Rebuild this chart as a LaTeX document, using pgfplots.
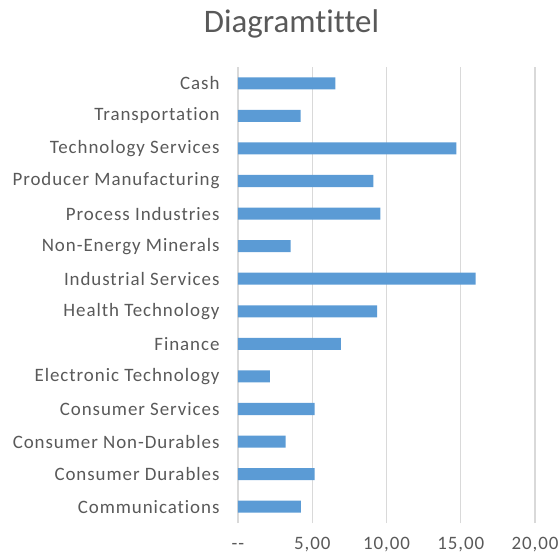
\documentclass[border=0pt]{standalone}
\usepackage{pgfplots}
\pgfplotsset{compat=1.18}
\usepackage{fontspec}
\setmainfont[Ligatures=NoCommon]{Carlito}
\newfontfamily\lblfont[LetterSpace=5,Ligatures=NoCommon]{Carlito}
\definecolor{barblue}{HTML}{5B9BD5}
\definecolor{txtgray}{HTML}{595959}
\definecolor{gridgray}{HTML}{D9D9D9}
\begin{document}
\begin{tikzpicture}
\useasboundingbox (-238bp,-32bp) rectangle (322bp,523bp);
\begin{axis}[
  at={(0,0)}, anchor=south west,
  scale only axis,
  width=297bp, height=456bp,
  xbar, bar width=0.37,
  xmin=0, xmax=20,
  ymin=-0.5, ymax=13.5,
  xtick={0,5,10,15,20},
  xticklabels={{-{}-},{5,00},{10,00},{15,00},{20,00}},
  ytick={0,...,13},
  yticklabels={Communications,Consumer Durables,Consumer Non-Durables,Consumer Services,Electronic Technology,Finance,Health Technology,Industrial Services,Non-Energy Minerals,Process Industries,Producer Manufacturing,Technology Services,Transportation,Cash},
  xmajorgrids, grid style={gridgray, line width=1.2bp},
  axis line style={draw=none},
  major tick length=0pt,
  tick label style={font=\lblfont\fontsize{19}{22}\selectfont, text=txtgray},
  yticklabel style={anchor=east, xshift=-15bp},
  xticklabel style={anchor=base, yshift=-26bp},
  clip=false,
]
\draw[gridgray, line width=1.2bp] (axis cs:0,-0.5) -- (axis cs:0,13.5);
\addplot[fill=barblue, draw=none] coordinates {
(4.24,0) (5.16,1) (3.20,2) (5.16,3) (2.14,4) (6.92,5) (9.37,6) (16.01,7) (3.54,8) (9.59,9) (9.12,10) (14.71,11) (4.21,12) (6.55,13)
};
\end{axis}
\node[text=txtgray, font=\fontsize{33}{38}\selectfont] at (53.5bp,499bp) {Diagramtittel};
\end{tikzpicture}
\end{document}
